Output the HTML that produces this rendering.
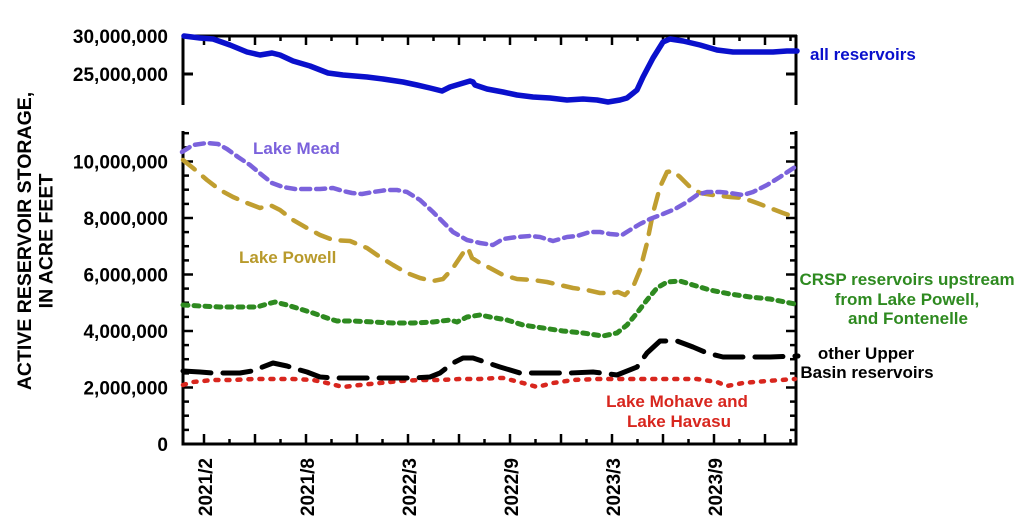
<!DOCTYPE html>
<html>
<head>
<meta charset="utf-8">
<style>
html,body{margin:0;padding:0;background:#fff;}
svg{display:block;}
text{font-family:"Liberation Sans",Arial,sans-serif;font-weight:bold;}
</style>
</head>
<body>
<svg width="1024" height="531" viewBox="0 0 1024 531" xmlns="http://www.w3.org/2000/svg">
<rect width="1024" height="531" fill="#fff"/>

<!-- Y axis title -->
<text transform="translate(31,241) rotate(-90)" text-anchor="middle" font-size="19.5" fill="#000">ACTIVE RESERVOIR STORAGE,</text>
<text transform="translate(52.5,241) rotate(-90)" text-anchor="middle" font-size="19.5" fill="#000">IN ACRE FEET</text>

<!-- TOP PANEL axes -->
<g stroke="#000" stroke-width="3" fill="none">
  <line x1="183" y1="36" x2="797" y2="36"/>
  <line x1="183" y1="35" x2="183" y2="105"/>
  <line x1="796" y1="35" x2="796" y2="105"/>
  <line x1="183" y1="74" x2="193" y2="74"/>
  <line x1="796" y1="74" x2="786" y2="74"/>
</g>
<g stroke="#000" stroke-width="2.5" id="toptk">
  <line x1="204" y1="36" x2="204" y2="45"/>
  <line x1="229.5" y1="36" x2="229.5" y2="41"/>
  <line x1="255" y1="36" x2="255" y2="45"/>
  <line x1="280.5" y1="36" x2="280.5" y2="41"/>
  <line x1="306" y1="36" x2="306" y2="45"/>
  <line x1="331.5" y1="36" x2="331.5" y2="41"/>
  <line x1="357" y1="36" x2="357" y2="45"/>
  <line x1="382.5" y1="36" x2="382.5" y2="41"/>
  <line x1="408" y1="36" x2="408" y2="45"/>
  <line x1="433.5" y1="36" x2="433.5" y2="41"/>
  <line x1="459" y1="36" x2="459" y2="45"/>
  <line x1="484.5" y1="36" x2="484.5" y2="41"/>
  <line x1="510" y1="36" x2="510" y2="45"/>
  <line x1="535.5" y1="36" x2="535.5" y2="41"/>
  <line x1="561" y1="36" x2="561" y2="45"/>
  <line x1="586.5" y1="36" x2="586.5" y2="41"/>
  <line x1="612" y1="36" x2="612" y2="45"/>
  <line x1="637.5" y1="36" x2="637.5" y2="41"/>
  <line x1="663" y1="36" x2="663" y2="45"/>
  <line x1="688.5" y1="36" x2="688.5" y2="41"/>
  <line x1="714" y1="36" x2="714" y2="45"/>
  <line x1="739.5" y1="36" x2="739.5" y2="41"/>
  <line x1="765" y1="36" x2="765" y2="45"/>
  <line x1="790.5" y1="36" x2="790.5" y2="41"/>
</g>
<text x="168" y="43" text-anchor="end" font-size="19" fill="#000">30,000,000</text>
<text x="168" y="81" text-anchor="end" font-size="19" fill="#000">25,000,000</text>

<!-- all reservoirs line -->
<polyline fill="none" stroke="#0a10cc" stroke-width="5.5" stroke-linejoin="round" stroke-linecap="round"
points="184,36 200,38 213,39 230,45 247,52 260,55 272,53 280,55 293,61 310,66 328,73 343,75 367,77 383,79 403,82 417,85 430,88 442,91 450,87 460,84 470,81 473,82 475,85 487,89 503,92 517,95 533,97 550,98 567,100 583,99 597,100 608,102 620,100 627,98 637,90 643,77 653,58 663,42 670,39 683,41 700,45 717,50 733,52 753,52 773,52 787,51 797,51"/>
<text x="810" y="60" font-size="17" fill="#0a10cc">all reservoirs</text>

<!-- BOTTOM PANEL axes -->
<g stroke="#000" stroke-width="3" fill="none">
  <line x1="183" y1="131" x2="183" y2="445.5"/>
  <line x1="796" y1="131" x2="796" y2="445.5"/>
  <line x1="181.5" y1="444" x2="797.5" y2="444"/>
</g>
<g stroke="#000" stroke-width="2.5">
  <!-- left ticks -->
  <line x1="183" y1="387.5" x2="193" y2="387.5"/>
  <line x1="183" y1="331" x2="193" y2="331"/>
  <line x1="183" y1="274.5" x2="193" y2="274.5"/>
  <line x1="183" y1="218" x2="193" y2="218"/>
  <line x1="183" y1="161.5" x2="193" y2="161.5"/>
  <line x1="183" y1="429.9" x2="189" y2="429.9"/>
  <line x1="183" y1="415.7" x2="189" y2="415.7"/>
  <line x1="183" y1="401.6" x2="189" y2="401.6"/>
  <line x1="183" y1="373.4" x2="189" y2="373.4"/>
  <line x1="183" y1="359.2" x2="189" y2="359.2"/>
  <line x1="183" y1="345.1" x2="189" y2="345.1"/>
  <line x1="183" y1="316.9" x2="189" y2="316.9"/>
  <line x1="183" y1="302.7" x2="189" y2="302.7"/>
  <line x1="183" y1="288.6" x2="189" y2="288.6"/>
  <line x1="183" y1="260.4" x2="189" y2="260.4"/>
  <line x1="183" y1="246.2" x2="189" y2="246.2"/>
  <line x1="183" y1="232.1" x2="189" y2="232.1"/>
  <line x1="183" y1="203.9" x2="189" y2="203.9"/>
  <line x1="183" y1="189.7" x2="189" y2="189.7"/>
  <line x1="183" y1="175.6" x2="189" y2="175.6"/>
  <line x1="183" y1="147.4" x2="189" y2="147.4"/>
  <line x1="183" y1="133.2" x2="189" y2="133.2"/>
  <!-- right ticks -->
  <line x1="796" y1="387.5" x2="786" y2="387.5"/>
  <line x1="796" y1="331" x2="786" y2="331"/>
  <line x1="796" y1="274.5" x2="786" y2="274.5"/>
  <line x1="796" y1="218" x2="786" y2="218"/>
  <line x1="796" y1="161.5" x2="786" y2="161.5"/>
  <line x1="796" y1="429.9" x2="790" y2="429.9"/>
  <line x1="796" y1="415.7" x2="790" y2="415.7"/>
  <line x1="796" y1="401.6" x2="790" y2="401.6"/>
  <line x1="796" y1="373.4" x2="790" y2="373.4"/>
  <line x1="796" y1="359.2" x2="790" y2="359.2"/>
  <line x1="796" y1="345.1" x2="790" y2="345.1"/>
  <line x1="796" y1="316.9" x2="790" y2="316.9"/>
  <line x1="796" y1="302.7" x2="790" y2="302.7"/>
  <line x1="796" y1="288.6" x2="790" y2="288.6"/>
  <line x1="796" y1="260.4" x2="790" y2="260.4"/>
  <line x1="796" y1="246.2" x2="790" y2="246.2"/>
  <line x1="796" y1="232.1" x2="790" y2="232.1"/>
  <line x1="796" y1="203.9" x2="790" y2="203.9"/>
  <line x1="796" y1="189.7" x2="790" y2="189.7"/>
  <line x1="796" y1="175.6" x2="790" y2="175.6"/>
  <line x1="796" y1="147.4" x2="790" y2="147.4"/>
  <line x1="796" y1="133.2" x2="790" y2="133.2"/>
  <!-- bottom ticks -->
  <line x1="204" y1="444" x2="204" y2="434"/>
  <line x1="229.5" y1="444" x2="229.5" y2="439"/>
  <line x1="255" y1="444" x2="255" y2="434"/>
  <line x1="280.5" y1="444" x2="280.5" y2="439"/>
  <line x1="306" y1="444" x2="306" y2="434"/>
  <line x1="331.5" y1="444" x2="331.5" y2="439"/>
  <line x1="357" y1="444" x2="357" y2="434"/>
  <line x1="382.5" y1="444" x2="382.5" y2="439"/>
  <line x1="408" y1="444" x2="408" y2="434"/>
  <line x1="433.5" y1="444" x2="433.5" y2="439"/>
  <line x1="459" y1="444" x2="459" y2="434"/>
  <line x1="484.5" y1="444" x2="484.5" y2="439"/>
  <line x1="510" y1="444" x2="510" y2="434"/>
  <line x1="535.5" y1="444" x2="535.5" y2="439"/>
  <line x1="561" y1="444" x2="561" y2="434"/>
  <line x1="586.5" y1="444" x2="586.5" y2="439"/>
  <line x1="612" y1="444" x2="612" y2="434"/>
  <line x1="637.5" y1="444" x2="637.5" y2="439"/>
  <line x1="663" y1="444" x2="663" y2="434"/>
  <line x1="688.5" y1="444" x2="688.5" y2="439"/>
  <line x1="714" y1="444" x2="714" y2="434"/>
  <line x1="739.5" y1="444" x2="739.5" y2="439"/>
  <line x1="765" y1="444" x2="765" y2="434"/>
  <line x1="790.5" y1="444" x2="790.5" y2="439"/>
</g>

<!-- y tick labels -->
<g font-size="19" fill="#000" text-anchor="end">
  <text x="168" y="168.5">10,000,000</text>
  <text x="168" y="225">8,000,000</text>
  <text x="168" y="281.5">6,000,000</text>
  <text x="168" y="338">4,000,000</text>
  <text x="168" y="394.5">2,000,000</text>
  <text x="168" y="451">0</text>
</g>

<!-- x tick labels -->
<g font-size="19" fill="#000" text-anchor="end">
  <text transform="translate(212,458) rotate(-90)">2021/2</text>
  <text transform="translate(314,458) rotate(-90)">2021/8</text>
  <text transform="translate(416,458) rotate(-90)">2022/3</text>
  <text transform="translate(518,458) rotate(-90)">2022/9</text>
  <text transform="translate(620,458) rotate(-90)">2023/3</text>
  <text transform="translate(722,458) rotate(-90)">2023/9</text>
</g>

<!-- Red: Lake Mohave and Lake Havasu -->
<polyline fill="none" stroke="#d8261e" stroke-width="4.5" stroke-linecap="round" stroke-linejoin="round" stroke-dasharray="3 8"
points="183,385 193,382 213,380 233,380 253,379 273,379 293,379 313,380 327,383 343,387 360,385 380,383 400,381 420,380 440,380 460,379 480,379 497,378 503,378 523,383 537,387 553,383 573,380 597,379 623,379 650,379 677,379 697,379 717,382 727,386 743,383 767,381 795,379"/>

<!-- Black: other Upper Basin -->
<polyline fill="none" stroke="#000" stroke-width="5" stroke-linecap="round" stroke-linejoin="round" stroke-dasharray="28 12"
points="183,371 200,372 213,373 227,373 240,373 252,371 260,368 273,363 287,366 300,370 307,372 320,377 333,378 350,378 367,378 393,378 413,378 430,377 440,373 453,363 463,358 473,358 485,362 500,367 520,373 543,373 570,373 593,372 617,375 637,367 647,353 660,341 677,341 693,347 707,353 723,357 753,357 770,357 798,356"/>

<!-- Green: CRSP -->
<polyline fill="none" stroke="#2e8a20" stroke-width="5" stroke-linecap="round" stroke-linejoin="round" stroke-dasharray="5 6"
points="183,305 200,306 220,307 240,307 257,307 267,304 275,302 287,305 300,309 313,313 327,318 337,321 353,321 373,322 393,323 413,323 433,322 450,320 457,322 467,317 480,315 490,317 507,320 523,325 543,328 563,331 583,333 603,336 617,333 627,325 637,313 647,300 657,288 667,282 680,281 693,285 710,290 730,294 750,297 770,299 795,304"/>

<!-- Gold: Lake Powell -->
<polyline fill="none" stroke="#c09e30" stroke-width="4.5" stroke-linecap="round" stroke-linejoin="round" stroke-dasharray="15 11"
points="183,160 193,168 207,180 220,190 233,197 247,203 260,208 270,205 280,210 293,220 307,228 320,235 333,240 350,241 367,248 380,257 393,265 407,273 420,278 433,281 443,279 453,268 463,253 468,248 472,258 480,263 490,268 503,275 517,279 533,280 547,282 560,285 573,288 587,290 600,293 613,293 618,292 625,295 633,287 640,270 647,243 653,213 660,187 667,172 673,171 680,177 690,187 700,193 713,195 730,197 743,198 757,203 770,208 783,213 795,217"/>

<!-- Purple: Lake Mead -->
<polyline fill="none" stroke="#7b62dc" stroke-width="4.5" stroke-linecap="round" stroke-linejoin="round" stroke-dasharray="9 6"
points="182,152 193,145 207,143 218,144 227,149 238,157 250,165 262,175 272,183 283,187 295,189 307,189 320,189 333,188 343,191 352,193 362,194 373,192 387,190 397,190 407,192 420,200 433,212 443,222 453,232 467,240 480,243 493,245 503,239 517,237 530,236 540,237 553,241 567,237 577,236 590,232 600,232 610,234 622,235 630,230 640,224 650,219 663,214 675,209 687,202 697,195 707,192 720,192 730,193 743,195 753,192 767,185 780,177 795,167"/>

<!-- Labels -->
<text x="253" y="154" font-size="17" fill="#7b62dc">Lake Mead</text>
<text x="239" y="263" font-size="17" fill="#b89a2c">Lake Powell</text>
<g font-size="17" fill="#2e8a20" text-anchor="middle">
  <text x="907" y="285">CRSP reservoirs upstream</text>
  <text x="907" y="305">from Lake Powell,</text>
  <text x="908" y="324">and Fontenelle</text>
</g>
<g font-size="17" fill="#000" text-anchor="middle">
  <text x="866" y="359">other Upper</text>
  <text x="867" y="378">Basin reservoirs</text>
</g>
<g font-size="17" fill="#d8261e" text-anchor="middle">
  <text x="677" y="407">Lake Mohave and</text>
  <text x="679" y="427">Lake Havasu</text>
</g>
</svg>
</body>
</html>
